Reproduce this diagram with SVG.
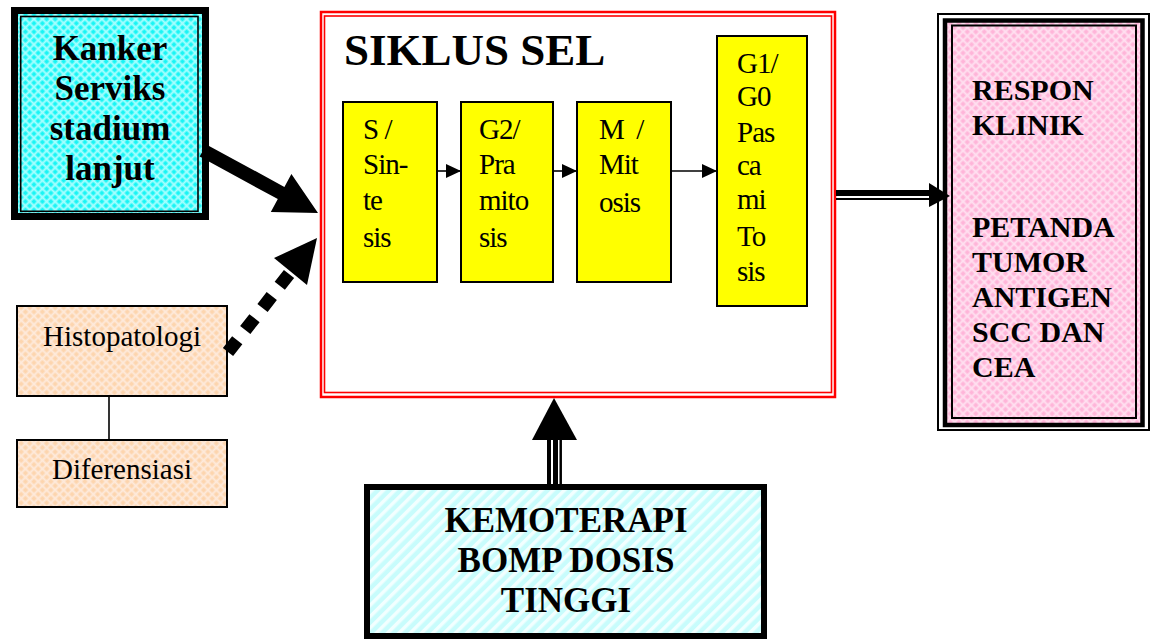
<svg xmlns="http://www.w3.org/2000/svg" width="1152" height="641" viewBox="0 0 1152 641">
  <defs>
    <!-- diamond lattice fills -->
    <pattern id="patCyan" width="6" height="6" patternUnits="userSpaceOnUse" patternTransform="rotate(45)">
      <rect width="6" height="6" fill="#19f5f5"/>
      <path d="M0 1.5H6M1.5 0V6" stroke="#a8ffff" stroke-width="2"/>
    </pattern>
    <pattern id="patPeach" width="6" height="6" patternUnits="userSpaceOnUse" patternTransform="rotate(45)">
      <rect width="6" height="6" fill="#fdd5ae"/>
      <path d="M0 1.5H6M1.5 0V6" stroke="#feeadb" stroke-width="2"/>
    </pattern>
    <pattern id="patPink" width="6" height="6" patternUnits="userSpaceOnUse" patternTransform="rotate(45)">
      <rect width="6" height="6" fill="#ffb5d9"/>
      <path d="M0 1.5H6M1.5 0V6" stroke="#ffe0f0" stroke-width="2"/>
    </pattern>
    <!-- diagonal stripes -->
    <pattern id="patStripe" width="8" height="8" patternUnits="userSpaceOnUse" patternTransform="rotate(45)">
      <rect width="8" height="8" fill="#c8fcfc"/>
      <rect width="3.5" height="8" fill="#f2ffff"/>
    </pattern>
    <marker id="tri" viewBox="0 0 15 14" refX="15" refY="7" markerWidth="15" markerHeight="14" markerUnits="userSpaceOnUse" orient="auto">
      <path d="M0 0L15 7L0 14Z" fill="#000"/>
    </marker>
  </defs>
  <style>
    .serif { font-family: "Liberation Serif", "Times New Roman", serif; fill: #000; }
    .b { font-weight: bold; }
    .phase { fill: #ffff00; stroke: #000; stroke-width: 2; }
    .step { font-size: 29px; letter-spacing: -1px; }
    .small { fill: url(#patPeach); stroke: #000; stroke-width: 2; }
    .thin { stroke: #000; stroke-width: 1.6; fill: none; }
  </style>

  <!-- input node -->
  <g id="kanker">
    <rect x="14.5" y="10.5" width="191" height="206" fill="url(#patCyan)" stroke="#000" stroke-width="7"/>
    <rect x="20.7" y="16.5" width="177.3" height="194.8" fill="none" stroke="#000" stroke-width="1.6"/>
    <g class="serif b" font-size="35" text-anchor="middle">
      <text x="110" y="60">Kanker</text>
      <text x="110" y="100">Serviks</text>
      <text x="110" y="140">stadium</text>
      <text x="110" y="180">lanjut</text>
    </g>
  </g>

  <g id="histopatologi">
    <rect class="small" x="17" y="306" width="210" height="90"/>
    <text class="serif" x="122" y="346" font-size="29" text-anchor="middle">Histopatologi</text>
  </g>

  <g id="diferensiasi">
    <rect class="small" x="17" y="440" width="210" height="67"/>
    <text class="serif" x="122" y="479" font-size="29" text-anchor="middle">Diferensiasi</text>
  </g>

  <!-- cell cycle container -->
  <g id="siklus">
    <rect x="321" y="12" width="514" height="385" fill="#fff" stroke="#ff0000" stroke-width="2.5"/>
    <rect x="324.5" y="16" width="507" height="376.5" fill="none" stroke="#ff0000" stroke-width="1.6"/>
    <text class="serif b" x="344" y="65" font-size="45">SIKLUS SEL</text>
  </g>

  <g id="fase-s">
    <rect class="phase" x="343" y="102" width="94" height="180"/>
    <g class="serif step">
      <text x="363" y="139" xml:space="preserve">S /</text>
      <text x="363" y="174">Sin-</text>
      <text x="363" y="210">te</text>
      <text x="363" y="247">sis</text>
    </g>
  </g>

  <g id="fase-g2">
    <rect class="phase" x="461" y="102" width="92" height="180"/>
    <g class="serif step">
      <text x="479" y="139">G2/</text>
      <text x="479" y="174">Pra</text>
      <text x="479" y="210">mito</text>
      <text x="479" y="247">sis</text>
    </g>
  </g>

  <g id="fase-m">
    <rect class="phase" x="577" y="102" width="94" height="180"/>
    <g class="serif step">
      <text x="599" y="139" xml:space="preserve">M  /</text>
      <text x="599" y="174">Mit</text>
      <text x="599" y="212">osis</text>
    </g>
  </g>

  <g id="fase-g1">
    <rect class="phase" x="717" y="36" width="90" height="270"/>
    <g class="serif step">
      <text x="737" y="73">G1/</text>
      <text x="737" y="106">G0</text>
      <text x="737" y="142">Pas</text>
      <text x="737" y="175">ca</text>
      <text x="737" y="209">mi</text>
      <text x="737" y="246">To</text>
      <text x="737" y="281">sis</text>
    </g>
  </g>

  <!-- outcome node -->
  <g id="respon">
    <rect x="938" y="14" width="211" height="416" fill="#fff" stroke="#000" stroke-width="2"/>
    <rect x="945" y="20.5" width="197.5" height="404.5" fill="url(#patPink)" stroke="#000" stroke-width="4.5"/>
    <rect x="952" y="25.5" width="184" height="392.5" fill="none" stroke="#000" stroke-width="2"/>
    <g class="serif b" font-size="30">
      <text x="972" y="100">RESPON</text>
      <text x="972" y="135">KLINIK</text>
      <text x="972" y="237">PETANDA</text>
      <text x="972" y="272">TUMOR</text>
      <text x="972" y="307">ANTIGEN</text>
      <text x="972" y="342">SCC DAN</text>
      <text x="972" y="377">CEA</text>
    </g>
  </g>

  <!-- treatment node -->
  <g id="kemoterapi">
    <rect x="367" y="487" width="397" height="149" fill="url(#patStripe)" stroke="#000" stroke-width="6"/>
    <g class="serif b" font-size="35" text-anchor="middle">
      <text x="566" y="532">KEMOTERAPI</text>
      <text x="566" y="572">BOMP DOSIS</text>
      <text x="566" y="612">TINGGI</text>
    </g>
  </g>

  <!-- connectors -->
  <g id="connectors">
    <!-- phase sequence -->
    <line class="thin" x1="437" y1="171" x2="461" y2="171" marker-end="url(#tri)"/>
    <line class="thin" x1="553" y1="171" x2="577" y2="171" marker-end="url(#tri)"/>
    <line class="thin" x1="671" y1="171" x2="717" y2="171" marker-end="url(#tri)"/>

    <!-- block arrow: kanker to siklus -->
    <polygon points="206.3,144.4 284.4,186.9 291.4,174 318,213 270.8,212 277.8,199.1 199.7,156.6" fill="#000"/>

    <!-- dotted arrow: histopatologi to siklus -->
    <line x1="228" y1="352" x2="291" y2="271.5" stroke="#000" stroke-width="13" stroke-dasharray="15 13"/>
    <polygon points="317,238 307,285 274,258" fill="#000"/>

    <!-- histopatologi to diferensiasi -->
    <line class="thin" x1="109" y1="396" x2="109" y2="440"/>

    <!-- siklus to respon: thick-thin line -->
    <line x1="836" y1="193" x2="932" y2="193" stroke="#000" stroke-width="6"/>
    <line x1="836" y1="199" x2="932" y2="199" stroke="#000" stroke-width="2"/>
    <polygon points="950,196 929,183 929,207" fill="#000"/>

    <!-- kemoterapi to siklus: triple line -->
    <line x1="549" y1="438" x2="549" y2="484" stroke="#000" stroke-width="4"/>
    <line x1="555.5" y1="438" x2="555.5" y2="484" stroke="#000" stroke-width="5"/>
    <line x1="560.7" y1="438" x2="560.7" y2="484" stroke="#000" stroke-width="2.5"/>
    <polygon points="554,398 577,440 532,440" fill="#000"/>
  </g>
</svg>
